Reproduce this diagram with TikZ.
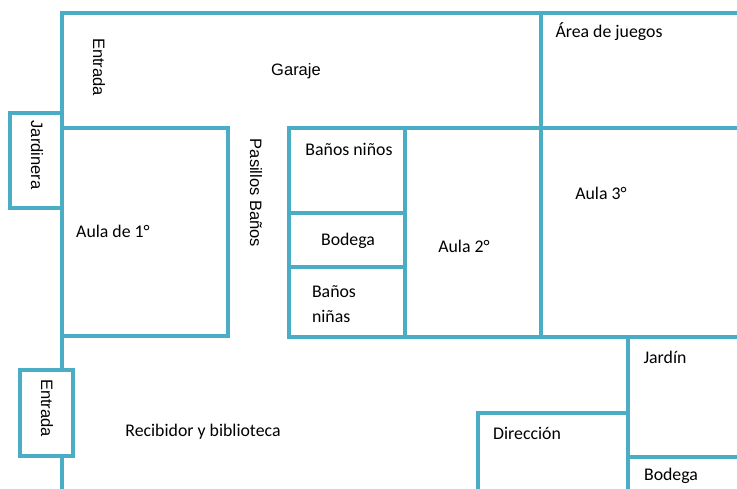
\documentclass[tikz,border=0pt]{standalone}
\usepackage{fontspec}
\setmainfont{Carlito}
\newfontfamily\arialfont{Liberation Sans}
\usepackage{xcolor}
\usepackage{tikz}
\usetikzlibrary{positioning}

\definecolor{muro}{RGB}{75,172,198}

\begin{document}
\begin{tikzpicture}[
					x=1pt, y=-1pt,
					% Style cho los muros
					muro/.style={draw=muro, line width=3.3pt, line cap=rect},
					% Style cho las cajas salientes (jardinera, entrada)
					caja/.style={muro, fill=white},
					% Style cho los nombres de salas
					sala/.style={font=\fontsize{17.8}{25}\selectfont, inner sep=0pt, align=left},
					% Style cho los textos en Arial
					rotulo/.style={font=\arialfont\fontsize{16.5}{20}\selectfont, inner sep=0pt},
					vertical/.style={rotulo, rotate=-90}
					]
					\useasboundingbox (0,0) rectangle (737,489);
					
					% ================= Muros exteriores =================
					\draw[muro] (737,13) -- (62,13) -- (62,489);
					
					% ================= Aula de 1° =================
					\draw[muro] (62,128) rectangle (228,336);
					
					% ================= Bloque central (baños, aulas) =================
					\draw[muro] (737,128) -- (289,128) -- (289,337) -- (737,337);
					\draw[muro] (405,128) -- (405,337);
					\draw[muro] (541,13) -- (541,337);
					\draw[muro] (289,213) -- (405,213);
					\draw[muro] (289,267) -- (405,267);
					
					% ================= Jardín, Dirección, Bodega =================
					\draw[muro] (628,337) -- (628,489);
					\draw[muro] (478,489) -- (478,413) -- (628,413);
					\draw[muro] (628,457) -- (737,457);
					
					% ================= Jardinera y Entrada =================
					\draw[caja] (10,113) rectangle (62,208);
					\draw[caja] (20,370) rectangle (73,456);
					
					% ================= Textos =================
					\node[vertical] (entradaG) at (99,67) {Entrada};
					\node[rotulo] (garaje) at (296,71) {Garaje};
					\node[vertical] (jardinera) at (37,155) {Jardinera};
					\node[vertical] (pasillo) at (256,193) {Pasillos Baños};
					\node[sala] (aula1) at (113,231) {Aula de 1°};
					\node[sala] (banosH) at (349,149) {Baños niños};
					\node[sala] (bodegaA) at (348,241) {Bodega};
					\node[sala] (banosM) at (334,304) {Baños\\niñas};
					\node[sala] (aula2) at (464,246) {Aula 2°};
					\node[sala] (juegos) at (609,32) {Área de juegos};
					\node[sala] (aula3) at (601,193) {Aula 3°};
					\node[sala] (jardin) at (665,357) {Jardín};
					\node[sala] (direccion) at (527,433) {Dirección};
					\node[sala] (bodegaB) at (671,476) {Bodega};
					\node[vertical] (entradaB) at (47,408) {Entrada};
					\node[sala] (recibidor) at (203,432) {Recibidor y biblioteca};
					
				\end{tikzpicture}
\end{document}
